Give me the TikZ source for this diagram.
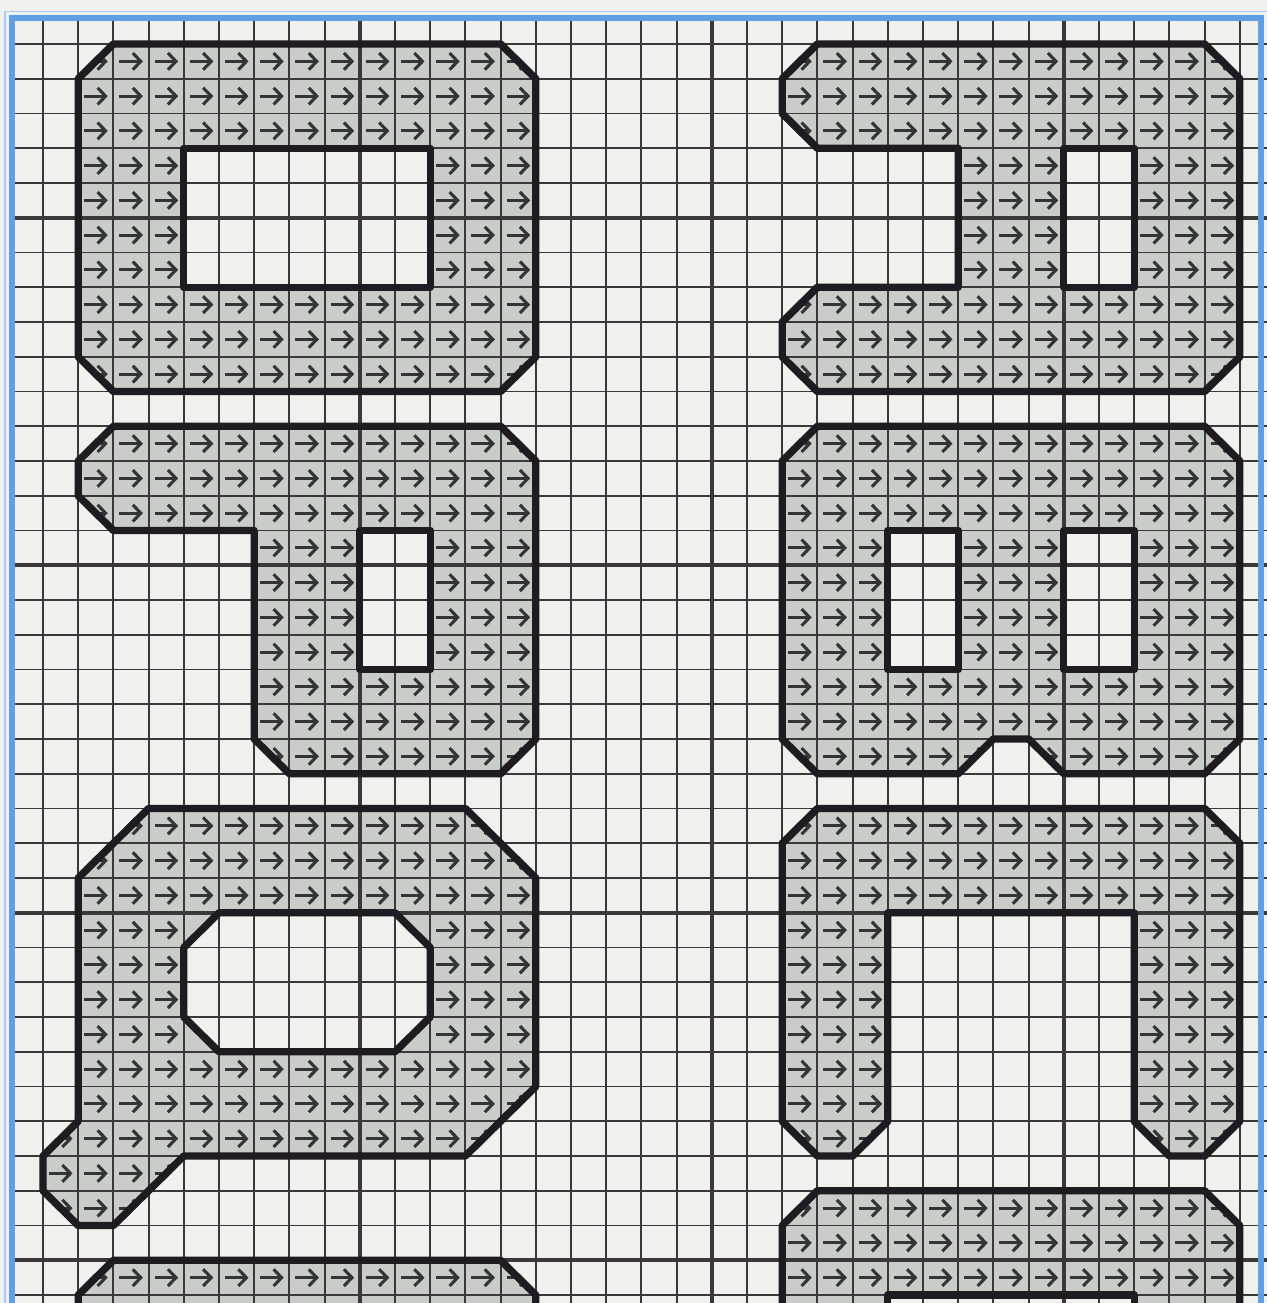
\documentclass[tikz,border=0pt]{standalone}
\usetikzlibrary{arrows.meta}
\definecolor{bgc}{RGB}{240,240,238}
\definecolor{fillc}{RGB}{201,204,201}
\definecolor{gridc}{RGB}{58,56,58}
\definecolor{arrc}{RGB}{52,52,54}
\definecolor{outc}{RGB}{30,28,32}
\definecolor{bluec}{RGB}{96,160,226}
\newcommand\cellarrows[5]{%
  \foreach \ci in {#1,...,#2}{%
    \foreach \cj in {#3,...,#4}{%
      \gdef\skipit{0}%
      \foreach \ha/\hb/\hc/\hd in {#5}{%
        \ifnum\ci<\ha\relax\else\ifnum\ci<\hb\relax\ifnum\cj<\hc\relax\else\ifnum\cj<\hd\relax\gdef\skipit{1}\fi\fi\fi\fi}%
      \ifnum\skipit=0 \draw[cellarrow] (\ci+0.17,\cj+0.5) -- (\ci+0.84,\cj+0.5);\fi
    }}}
\def\SA{(2,0) -- (13,0) -- (14,1) -- (14,9) -- (13,10) -- (2,10) -- (1,9) -- (1,1) -- cycle}
\def\SAh{(4,3) rectangle (11,7)}
\def\SB{(22,0) -- (33,0) -- (34,1) -- (34,9) -- (33,10) -- (22,10) -- (21,9) -- (21,8) -- (22,7) -- (26,7) -- (26,3) -- (22,3) -- (21,2) -- (21,1) -- cycle}
\def\SBh{(29,3) rectangle (31,7)}
\def\SC{(2,11) -- (13,11) -- (14,12) -- (14,20) -- (13,21) -- (7,21) -- (6,20) -- (6,14) -- (2,14) -- (1,13) -- (1,12) -- cycle}
\def\SCh{(9,14) rectangle (11,18)}
\def\SD{(22,11) -- (33,11) -- (34,12) -- (34,20) -- (33,21) -- (29,21) -- (28,20) -- (27,20) -- (26,21) -- (22,21) -- (21,20) -- (21,12) -- cycle}
\def\SDh{(24,14) rectangle (26,18) (29,14) rectangle (31,18)}
\def\SE{(3,22) -- (12,22) -- (14,24) -- (14,30) -- (12,32) -- (4,32) -- (2,34) -- (1,34) -- (0,33) -- (0,32) -- (1,31) -- (1,24) -- cycle}
\def\SEh{(5,25) -- (10,25) -- (11,26) -- (11,28) -- (10,29) -- (5,29) -- (4,28) -- (4,26) -- cycle}
\def\SF{(22,22) -- (33,22) -- (34,23) -- (34,31) -- (33,32) -- (32,32) -- (31,31) -- (31,25) -- (24,25) -- (24,31) -- (23,32) -- (22,32) -- (21,31) -- (21,23) -- cycle}
\def\SG{(2,35) -- (13,35) -- (14,36) -- (14,38) -- (1,38) -- (1,36) -- cycle}
\def\SH{(22,33) -- (33,33) -- (34,34) -- (34,38) -- (21,38) -- (21,34) -- cycle}
\def\SHh{(24,36) rectangle (31,38)}
\begin{document}
\begin{tikzpicture}[x=0.704cm,y=-0.695cm,
  gridminor/.style={draw=gridc,line width=1.1pt},
  gridmajor/.style={draw=gridc,line width=2.1pt},
  cellarrow/.style={draw=arrc,line width=1.75pt,-{Straight Barb[length=4.6pt,width=9.5pt]}},
  outline/.style={draw=outc,line width=4.2pt,line join=round},
  holefill/.style={fill=bgc},
  shapefill/.style={fill=fillc}]
\useasboundingbox (-1.2216,-1.2662) rectangle (34.773,36.230);
\fill[bgc] (-1.2216,-1.2662) rectangle (34.773,36.230);
% shape fills
\fill[shapefill] \SA; \fill[holefill] \SAh;
\fill[shapefill] \SB; \fill[holefill] \SBh;
\fill[shapefill] \SC; \fill[holefill] \SCh;
\fill[shapefill] \SD; \fill[holefill] \SDh;
\fill[shapefill] \SE; \fill[holefill] \SEh;
\fill[shapefill] \SF;
\fill[shapefill] \SG;
\fill[shapefill] \SH; \fill[holefill] \SHh;
% grid
\foreach \i in {0,...,34} {\draw[gridminor] (\i,-0.75) -- (\i,36.3);}
\foreach \j in {0,...,36} {\draw[gridminor] (-0.9,\j) -- (34.8,\j);}
\foreach \i in {9,19,29} {\draw[gridmajor] (\i,-0.75) -- (\i,36.3);}
\foreach \j in {5,15,25,35} {\draw[gridmajor] (-0.9,\j) -- (34.8,\j);}
% arrows
\begin{scope}\clip \SA; \cellarrows{1}{13}{0}{9}{4/11/3/7}\end{scope}
\begin{scope}\clip \SB; \cellarrows{21}{33}{0}{9}{29/31/3/7}\end{scope}
\begin{scope}\clip \SC; \cellarrows{1}{13}{11}{20}{9/11/14/18}\end{scope}
\begin{scope}\clip \SD; \cellarrows{21}{33}{11}{20}{24/26/14/18,29/31/14/18}\end{scope}
\begin{scope}\clip \SE; \cellarrows{0}{13}{22}{33}{4/11/25/29}\end{scope}
\begin{scope}\clip \SF; \cellarrows{21}{33}{22}{31}{0/0/0/0}\end{scope}
\begin{scope}\clip \SG; \cellarrows{1}{13}{35}{36}{0/0/0/0}\end{scope}
\begin{scope}\clip \SH; \cellarrows{21}{33}{33}{36}{24/31/36/40}\end{scope}
% outlines
\draw[outline] \SA; \draw[outline] \SAh;
\draw[outline] \SB; \draw[outline] \SBh;
\draw[outline] \SC; \draw[outline] \SCh;
\draw[outline] \SD; \draw[outline] \SDh;
\draw[outline] \SE; \draw[outline] \SEh;
\draw[outline] \SF;
\draw[outline] \SG;
\draw[outline] \SH; \draw[outline] (24,38) -- (24,36) -- (31,36) -- (31,38);
% blue frame
\draw[bluec!55,line width=0.8pt] (-1.08,36.4) -- (-1.08,-0.93) -- (34.8,-0.93);
\draw[bluec,line width=3.2pt] (-0.88,36.4) -- (-0.88,-0.75) -- (34.6,-0.75) -- (34.6,36.4);
\end{tikzpicture}
\end{document}
